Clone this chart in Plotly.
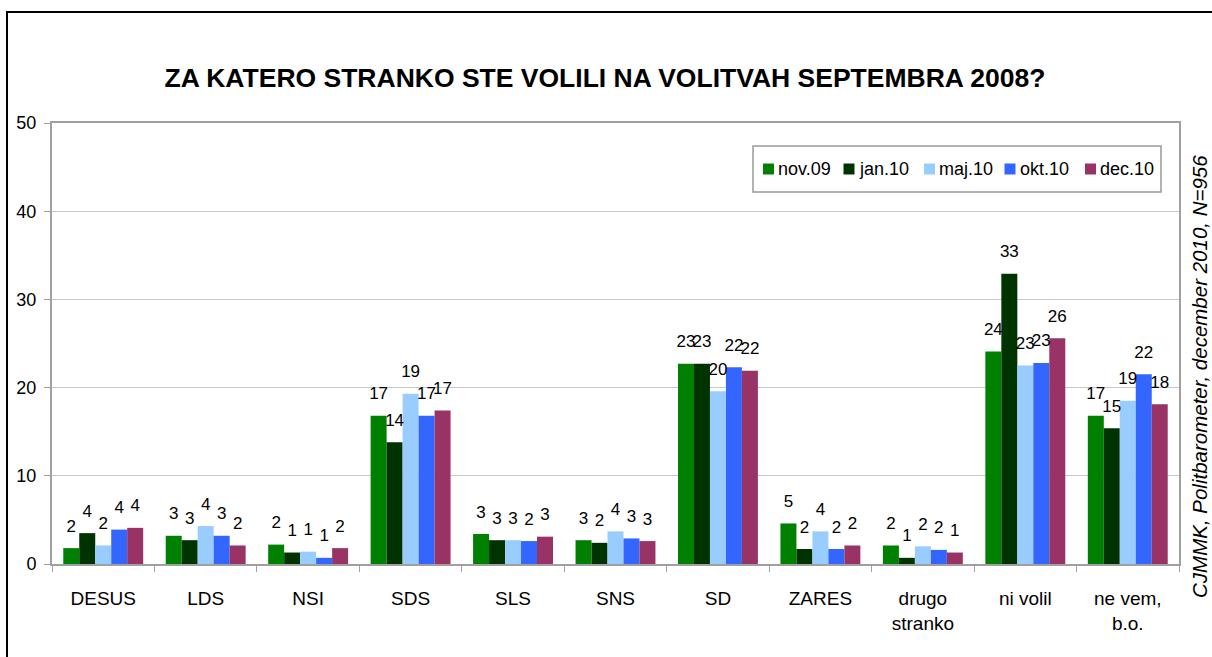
import plotly.graph_objects as go

categories = ["DESUS", "LDS", "NSI", "SDS", "SLS", "SNS", "SD", "ZARES",
              "drugo<br>stranko", "ni volil", "ne vem,<br>b.o."]
series_names = ["nov.09", "jan.10", "maj.10", "okt.10", "dec.10"]
colors = ["#008000", "#003300", "#99CCFF", "#3366FF", "#993366"]

nov09 = [1.8, 3.2, 2.2, 16.8, 3.4, 2.7, 22.7, 4.6, 2.1, 24.1, 16.8]
jan10 = [3.5, 2.7, 1.3, 13.8, 2.7, 2.4, 22.7, 1.7, 0.7, 32.9, 15.4]
maj10 = [2.1, 4.3, 1.4, 19.3, 2.7, 3.7, 19.6, 3.7, 2.0, 22.5, 18.5]
okt10 = [3.9, 3.2, 0.7, 16.8, 2.6, 2.9, 22.3, 1.7, 1.6, 22.8, 21.5]
dec10 = [4.1, 2.1, 1.8, 17.4, 3.1, 2.6, 21.9, 2.1, 1.3, 25.6, 18.1]

lab_nov09 = ["2", "3", "2", "17", "3", "3", "23", "5", "2", "24", "17"]
lab_jan10 = ["4", "3", "1", "14", "3", "2", "23", "2", "1", "33", "15"]
lab_maj10 = ["2", "4", "1", "19", "3", "4", "20", "4", "2", "23", "19"]
lab_okt10 = ["4", "3", "1", "17", "2", "3", "22", "2", "2", "23", "22"]
lab_dec10 = ["4", "2", "2", "17", "3", "3", "22", "2", "1", "26", "18"]

y_ticks = [0, 10, 20, 30, 40, 50]

values = [nov09, jan10, maj10, okt10, dec10]
labels = [lab_nov09, lab_jan10, lab_maj10, lab_okt10, lab_dec10]

title_text = "ZA KATERO STRANKO STE VOLILI NA VOLITVAH SEPTEMBRA 2008?"
source_text = "CJMMK, Politbarometer, december 2010, N=956"

FONT = "Liberation Sans, Arial, sans-serif"
GAP = 0.22

W, H = 1212, 657
L, R, T, B = 52, 33, 123, 93
PW, PH = W - L - R, H - T - B


def px_x(p):
    return (p - L) / PW


def px_y(p):
    return (H - B - p) / PH


fig = go.Figure()
for name, col, vals in zip(series_names, colors, values):
    fig.add_trace(go.Bar(x=categories, y=vals, name=name, marker_color=col,
                         marker_line_width=0, showlegend=False))
for name, vals, labs in zip(series_names, values, labels):
    fig.add_trace(go.Scatter(x=categories, y=vals, text=labs, mode="markers+text",
                             textposition="top center", showlegend=False,
                             marker=dict(size=18, color="rgba(0,0,0,0)"),
                             textfont=dict(family=FONT, size=17, color="#000000"),
                             hoverinfo="skip", cliponaxis=False))

fig.update_layout(
    width=W, height=H,
    margin=dict(l=L, r=R, t=T, b=B, pad=0),
    paper_bgcolor="white", plot_bgcolor="white",
    barmode="group", bargap=GAP, bargroupgap=0,
    scattermode="group", scattergap=GAP,
    font=dict(family=FONT, size=18, color="#000000"),
    title=dict(text="<b>" + title_text + "</b>", x=605 / W, xanchor="center",
               y=1 - 78 / H, yanchor="middle", yref="container",
               font=dict(family=FONT, size=26.5, color="#000000")),
    showlegend=False,
)
fig.update_yaxes(range=[0, 50], tickvals=y_ticks, showgrid=True, gridcolor="#c8c8c8",
                 showline=True, linecolor="#a0a0a0", linewidth=2, mirror=True,
                 ticks="outside", ticklen=6, tickcolor="#a0a0a0",
                 ticklabelstandoff=4,
                 tickfont=dict(family=FONT, size=18), zeroline=False)
fig.update_xaxes(showline=True, linecolor="#a0a0a0", linewidth=2, mirror=True,
                 ticks="outside", ticklen=6, tickcolor="#a0a0a0",
                 tickson="boundaries", showgrid=False, ticklabelstandoff=16,
                 tickfont=dict(family=FONT, size=19))

# legend box (drawn manually to match the compact original layout)
leg_left, leg_right, leg_top, leg_bottom = 753, 1161, 146, 192
fig.add_shape(type="rect", xref="paper", yref="paper",
              x0=px_x(leg_left), x1=px_x(leg_right),
              y0=px_y(leg_bottom), y1=px_y(leg_top),
              line=dict(color="#999999", width=1.5), fillcolor="white", layer="above")
pitch = 80.5
sym = 11
yc = (leg_top + leg_bottom) / 2
for i, (name, col) in enumerate(zip(series_names, colors)):
    sx = leg_left + 10 + i * pitch
    fig.add_shape(type="rect", xref="paper", yref="paper",
                  x0=px_x(sx), x1=px_x(sx + sym),
                  y0=px_y(yc + sym / 2), y1=px_y(yc - sym / 2),
                  line=dict(width=0), fillcolor=col, layer="above")
    fig.add_annotation(text=name, xref="paper", yref="paper",
                       x=px_x(sx + sym + 2), y=px_y(yc), xanchor="left", yanchor="middle",
                       showarrow=False, font=dict(family=FONT, size=18, color="#000000"))

fig.add_annotation(text="<i>" + source_text + "</i>", xref="paper", yref="paper",
                   x=px_x(1199), y=px_y(377),
                   xanchor="center", yanchor="middle",
                   textangle=-90, showarrow=False,
                   font=dict(family=FONT, size=20.5, color="#000000"))

fig.add_shape(type="rect", xref="paper", yref="paper",
              x0=px_x(7), x1=px_x(W + 20),
              y0=px_y(H + 20), y1=px_y(12),
              line=dict(color="#000000", width=2), layer="below")

fig.write_html("out.html",
               config={"displayModeBar": False},
               post_script="document.body.style.margin='0px';"
                           "document.body.style.overflow='hidden';")
